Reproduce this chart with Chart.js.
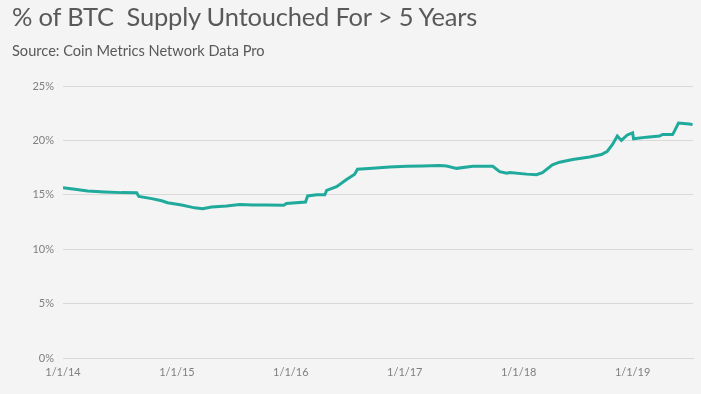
<!DOCTYPE html>
<html>
<head>
<meta charset="utf-8">
<script src="https://cdn.jsdelivr.net/npm/chart.js@4"></script>
<style>
  html, body { margin: 0; padding: 0; background: #f4f4f4; }
  body { width: 701px; height: 394px; position: relative; overflow: hidden; font-family: Lato, "Open Sans", sans-serif; }
  #title { position: absolute; left: 12px; top: 1px; font-size: 25.5px; line-height: 30px; color: #595959; white-space: pre; letter-spacing: -0.2px; }
  #sub { position: absolute; left: 12px; top: 42px; font-size: 14.6px; line-height: 18px; color: #595959; white-space: pre; }
  #wrap { position: absolute; left: 0; top: 0; width: 701px; height: 394px; }
</style>
</head>
<body>
<div id="wrap"><canvas id="c" width="701" height="394"></canvas></div>
<div id="title">% of BTC  Supply Untouched For &gt; 5 Years</div>
<div id="sub">Source: Coin Metrics Network Data Pro</div>
<script>
const dates = [
  "2014-01-01","2014-02-08","2014-03-21","2014-05-15","2014-07-08","2014-08-25","2014-09-01",
  "2014-10-12","2014-11-13","2014-12-02","2015-01-16","2015-02-27","2015-03-24","2015-04-22",
  "2015-06-09","2015-07-21","2015-09-01","2015-10-16","2015-12-09","2015-12-18","2016-02-17",
  "2016-02-24","2016-03-24","2016-04-19","2016-04-25","2016-05-27","2016-06-28","2016-07-24",
  "2016-08-02","2016-09-20","2016-11-13","2017-01-07","2017-02-27","2017-04-22","2017-05-15",
  "2017-06-16","2017-08-07","2017-10-10","2017-11-01","2017-11-24","2017-12-03","2018-01-26",
  "2018-02-27","2018-03-18","2018-04-19","2018-05-12","2018-06-23","2018-08-16","2018-09-23",
  "2018-10-12","2018-10-28","2018-11-13","2018-11-26","2018-12-15","2019-01-01","2019-01-04",
  "2019-02-15","2019-03-28","2019-04-07","2019-05-09","2019-05-15","2019-05-28","2019-07-02",
  "2019-07-12"
];
const supplyPct = [
  15.65,15.5,15.35,15.26,15.2,15.18,14.85,
  14.65,14.45,14.27,14.06,13.8,13.72,13.88,
  13.97,14.1,14.06,14.06,14.03,14.2,14.34,
  14.9,15.0,15.0,15.4,15.75,16.4,16.9,
  17.35,17.43,17.55,17.62,17.65,17.7,17.65,
  17.43,17.62,17.62,17.13,16.98,17.05,16.9,
  16.85,17.04,17.75,18.0,18.25,18.47,18.7,
  19.0,19.6,20.4,20.0,20.5,20.7,20.15,
  20.3,20.4,20.55,20.55,20.85,21.6,21.5,
  21.45
];
const xTickLabels = ["1/1/14","1/1/15","1/1/16","1/1/17","1/1/18","1/1/19"];
const yTickLabels = ["0%","5%","10%","15%","20%","25%"];

function toYear(s) {
  const d = new Date(s + "T00:00:00Z");
  const y = d.getUTCFullYear();
  const start = Date.UTC(y, 0, 1), end = Date.UTC(y + 1, 0, 1);
  return y + (d.getTime() - start) / (end - start);
}
const points = dates.map((d, i) => ({ x: toYear(d), y: supplyPct[i] }));

const gridColor = "#d9d9d9";
const tickColor = "#7f7f7f";

new Chart(document.getElementById("c"), {
  type: "line",
  data: { datasets: [{ data: points, borderColor: "#1faa9c", borderWidth: 3, pointRadius: 0, tension: 0, fill: false }] },
  options: {
    responsive: false,
    animation: false,
    layout: { padding: { left: 0, right: 8, top: 86, bottom: 0 } },
    plugins: { legend: { display: false }, tooltip: { enabled: false } },
    scales: {
      x: {
        type: "linear",
        min: 2014, max: 2019.53,
        afterBuildTicks: s => { s.ticks = xTickLabels.map((_, i) => ({ value: 2014 + i })); },
        ticks: { callback: (v) => xTickLabels[Math.round(v - 2014)], color: tickColor, font: { family: "Lato", size: 11 }, padding: 8, maxRotation: 0 },
        grid: { display: false, drawTicks: false },
        border: { display: true, color: gridColor, width: 1 },
        afterFit: s => { s.height = 36; }
      },
      y: {
        min: 0, max: 25,
        afterBuildTicks: s => { s.ticks = yTickLabels.map((_, i) => ({ value: i * 5 })); },
        ticks: { callback: (v) => yTickLabels[v / 5], color: tickColor, font: { family: "Lato", size: 11 }, padding: 9 },
        grid: { color: gridColor, lineWidth: 1, drawTicks: false },
        border: { display: false },
        afterFit: s => { s.width = 63; }
      }
    }
  }
});
</script>
</body>
</html>
